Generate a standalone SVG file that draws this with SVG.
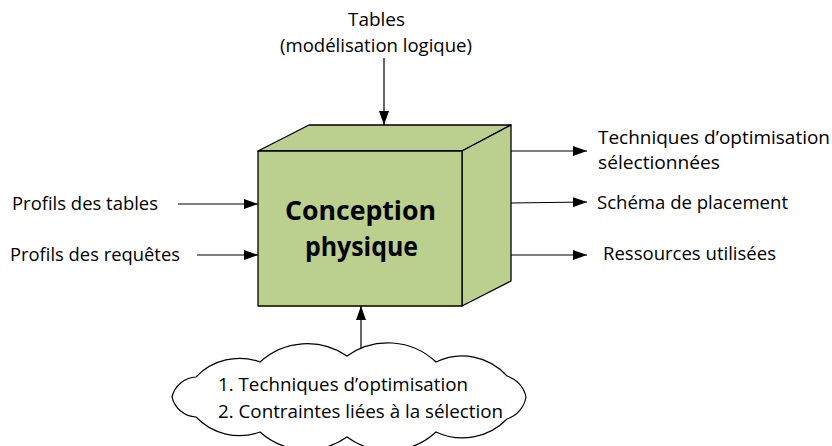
<svg xmlns="http://www.w3.org/2000/svg" width="832" height="446" viewBox="0 0 832 446">
<defs>
<marker id="ah" markerWidth="14" markerHeight="10" refX="14" refY="5" orient="auto" markerUnits="userSpaceOnUse">
<path d="M0,0 L14,5 L0,10 Z" fill="#000"/>
</marker>
<style>
.lbl{font-family:"Open Sans","Liberation Sans",sans-serif;font-size:18px;fill:#000}
.face{fill:#BBCF8F;stroke:#000;stroke-width:1.3;stroke-linejoin:round}
.conn{stroke:#000;stroke-width:1.2;fill:none;marker-end:url(#ah)}
.title{font-family:"Open Sans","Liberation Sans",sans-serif;font-size:27px;font-weight:bold;fill:#000}
</style>
</defs>
<rect width="832" height="446" fill="#fff"/>
<g id="connectors">
<line class="conn" x1="384" y1="58" x2="384" y2="125"/>
<line class="conn" x1="178" y1="204" x2="258" y2="204"/>
<line class="conn" x1="197" y1="255" x2="258" y2="255"/>
<line class="conn" x1="511" y1="151" x2="587" y2="151"/>
<line class="conn" x1="511" y1="203" x2="587" y2="202"/>
<line class="conn" x1="511" y1="255" x2="587" y2="255"/>
<line class="conn" x1="361" y1="353" x2="361" y2="306"/>
</g>
<g id="cube">
<polygon class="face" points="258,151 309,125 511,125 462,151"/>
<polygon class="face" points="462,151 511,125 511,281 462,306"/>
<rect class="face" x="258" y="151" width="204" height="155"/>
<text class="title" x="285" y="220" textLength="151" lengthAdjust="spacingAndGlyphs">Conception</text>
<text class="title" x="305" y="256" textLength="113" lengthAdjust="spacingAndGlyphs">physique</text>
</g>
<g id="top-input">
<text class="lbl" x="348" y="26" textLength="57" lengthAdjust="spacingAndGlyphs">Tables</text>
<text class="lbl" x="280" y="52" textLength="192" lengthAdjust="spacingAndGlyphs">(modélisation logique)</text>
</g>
<g id="left-inputs">
<text class="lbl" x="12" y="210" textLength="146" lengthAdjust="spacingAndGlyphs">Profils des tables</text>
<text class="lbl" x="10" y="261" textLength="170" lengthAdjust="spacingAndGlyphs">Profils des requêtes</text>
</g>
<g id="outputs">
<text class="lbl" x="598" y="144" textLength="232" lengthAdjust="spacingAndGlyphs">Techniques d’optimisation</text>
<text class="lbl" x="598" y="169" textLength="122" lengthAdjust="spacingAndGlyphs">sélectionnées</text>
<text class="lbl" x="597" y="209" textLength="191" lengthAdjust="spacingAndGlyphs">Schéma de placement</text>
<text class="lbl" x="603" y="260" textLength="173" lengthAdjust="spacingAndGlyphs">Ressources utilisées</text>
</g>
<g id="cloud">
<path d="M172,397 A26,26 0 0 1 196,377 A60,60 0 0 1 260,362 A70,70 0 0 1 347,356 A70,70 0 0 1 436,362 A60,60 0 0 1 507,376 A28,28 0 0 1 526,397 A28,28 0 0 1 507,419 A62,62 0 0 1 436,432 A70,70 0 0 1 347,437 A70,70 0 0 1 260,432 A60,60 0 0 1 196,417 A26,26 0 0 1 172,397 Z" fill="#fff" stroke="#000" stroke-width="1.2"/>
<text class="lbl" x="218" y="391" textLength="250" lengthAdjust="spacingAndGlyphs">1. Techniques d’optimisation</text>
<text class="lbl" x="218" y="418" textLength="285" lengthAdjust="spacingAndGlyphs">2. Contraintes liées à la sélection</text>
</g>
</svg>
